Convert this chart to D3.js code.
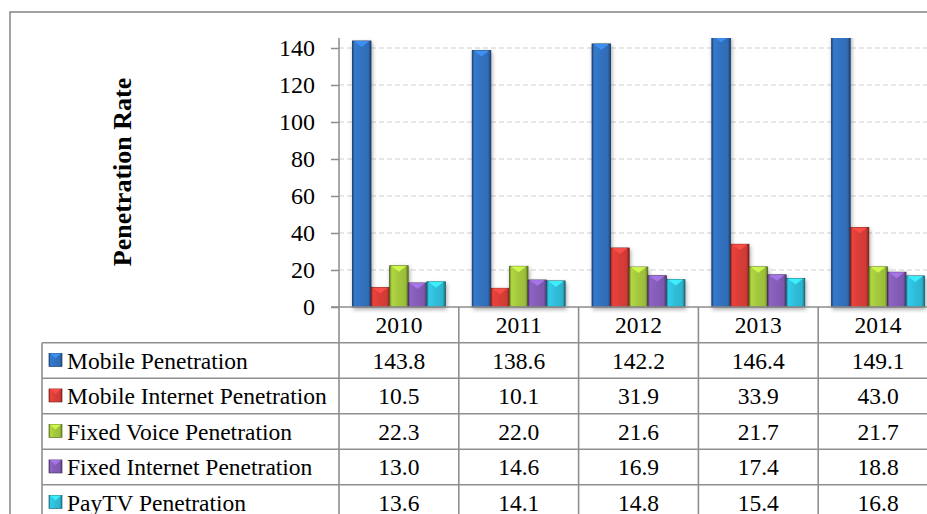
<!DOCTYPE html>
<head>
<meta charset="utf-8">
<title>Penetration Rate</title>
<style>
body { margin: 0; background: #fff; }
text { font-family: "Liberation Serif", "Times New Roman", serif; fill: #000; }
.tick-label { font-size: 24px; }
.tbl { font-size: 23.5px; }
.title { font-size: 26px; font-weight: bold; }
.grid line { stroke: #cfcfcf; stroke-width: 1.2; stroke-dasharray: 5,3; }
.frame { stroke: #8c8c8c; stroke-width: 1.6; fill: none; }
</style>
<script src="https://cdn.jsdelivr.net/npm/d3@7"></script>
</head>
<body>
<script>
// data
var years = ["2010", "2011", "2012", "2013", "2014"];
var seriesNames = ["Mobile Penetration", "Mobile Internet Penetration", "Fixed Voice Penetration",
                   "Fixed Internet Penetration", "PayTV Penetration"];
var mobile = [143.8, 138.6, 142.2, 146.4, 149.1];
var mobileInternet = [10.5, 10.1, 31.9, 33.9, 43.0];
var fixedVoice = [22.3, 22.0, 21.6, 21.7, 21.7];
var fixedInternet = [13.0, 14.6, 16.9, 17.4, 18.8];
var payTV = [13.6, 14.1, 14.8, 15.4, 16.8];
var yTicks = [0, 20, 40, 60, 80, 100, 120, 140];
var colors = ["#2f6cb6", "#cf3a35", "#9bbe3a", "#7d58ad", "#2db4cf"];

var seriesValues = [mobile, mobileInternet, fixedVoice, fixedInternet, payTV];

var W = 927, H = 514;
var axisX = 339, plotRight = 938, plotTop = 38, baseY = 307;
var rowH = 35.5, headerBottom = 342.7, tableLeft = 42;

var svg = d3.select("body").append("svg")
    .attr("width", W)
    .attr("height", H);

svg.append("rect").attr("width", W).attr("height", H).attr("fill", "#fff");

var defs = svg.append("defs");

// bevel-ish gradients per series
colors.forEach(function(c, i) {
  var g = defs.append("linearGradient").attr("id", "g" + i)
      .attr("x1", "0%").attr("x2", "100%").attr("y1", "0%").attr("y2", "0%");
  var base = d3.color(c);
  g.append("stop").attr("offset", "0%").attr("stop-color", base.darker(1.1));
  g.append("stop").attr("offset", "12%").attr("stop-color", base.brighter(0.35));
  g.append("stop").attr("offset", "45%").attr("stop-color", base.brighter(0.15));
  g.append("stop").attr("offset", "85%").attr("stop-color", base);
  g.append("stop").attr("offset", "100%").attr("stop-color", base.darker(1.3));
});

var shadow = defs.append("filter").attr("id", "shadow")
    .attr("x", "-20%").attr("y", "-5%").attr("width", "140%").attr("height", "115%");
shadow.append("feGaussianBlur").attr("in", "SourceAlpha").attr("stdDeviation", 2);
shadow.append("feOffset").attr("dx", 1).attr("dy", 2).attr("result", "b");
shadow.append("feComponentTransfer").append("feFuncA").attr("type", "linear").attr("slope", 0.35);
var merge = shadow.append("feMerge");
merge.append("feMergeNode");
merge.append("feMergeNode").attr("in", "SourceGraphic");

defs.append("clipPath").attr("id", "plotclip")
  .append("rect")
    .attr("x", axisX).attr("y", plotTop)
    .attr("width", plotRight - axisX).attr("height", baseY - plotTop + 6);

// outer frame
svg.append("rect").attr("class", "frame")
    .attr("x", 10).attr("y", 12)
    .attr("width", W + 20).attr("height", H + 20);

var y = d3.scaleLinear().domain([0, 140]).range([baseY, 48]);

var x0 = d3.scaleBand().domain(years)
    .range([axisX, plotRight])
    .paddingInner(0.224).paddingOuter(0.112);

var x1 = d3.scaleBand().domain(d3.range(seriesNames.length))
    .range([0, x0.bandwidth()]);

var xCell = d3.scaleBand().domain(years).range([axisX, plotRight]);

// grid
svg.append("g").attr("class", "grid")
  .selectAll("line").data(yTicks.slice(1))
  .enter().append("line")
    .attr("x1", axisX).attr("x2", W)
    .attr("y1", function(d) { return y(d); })
    .attr("y2", function(d) { return y(d); });

// y axis
var yAxis = svg.append("g")
    .attr("transform", "translate(" + axisX + ",0)")
    .call(d3.axisLeft(y).tickValues(yTicks).tickSize(8).tickPadding(16));
yAxis.select(".domain").remove();
yAxis.selectAll(".tick line").attr("stroke", "#8c8c8c").attr("stroke-width", 1.5);
yAxis.selectAll(".tick text").attr("class", "tick-label").attr("font-size", null)
    .attr("font-family", null).attr("fill", "#000");
yAxis.attr("font-size", null).attr("font-family", null);

svg.append("line")
    .attr("x1", axisX).attr("x2", axisX)
    .attr("y1", plotTop).attr("y2", baseY)
    .attr("stroke", "#8c8c8c").attr("stroke-width", 1.5);

svg.append("text").attr("class", "title")
    .attr("transform", "translate(131," + 172 + ") rotate(-90)")
    .attr("text-anchor", "middle")
    .text("Penetration Rate");

// bars
var bars = svg.append("g").attr("clip-path", "url(#plotclip)")
  .append("g").attr("filter", "url(#shadow)");

var groups = bars.selectAll("g.year").data(years)
  .enter().append("g")
    .attr("class", "year")
    .attr("transform", function(d) { return "translate(" + x0(d) + ",0)"; });

groups.each(function(yr, yi) {
  var g = d3.select(this);
  seriesValues.forEach(function(vals, si) {
    var bx = x1(si), bw = x1.bandwidth(), top = y(vals[yi]);
    var base = d3.color(colors[si]);
    g.append("rect")
        .attr("x", bx).attr("y", top)
        .attr("width", bw).attr("height", baseY - top)
        .attr("fill", "url(#g" + si + ")")
        .attr("stroke", base.darker(1.8))
        .attr("stroke-width", 0.8);
    g.append("path")
        .attr("d", "M" + (bx + 1.5) + "," + top + "L" + (bx + bw - 1.5) + "," + top +
                   "L" + (bx + bw / 2) + "," + (top + 6) + "Z")
        .attr("fill", base.brighter(0.9))
        .attr("opacity", 0.85);
  });
});

// baseline
svg.append("line")
    .attr("x1", axisX - 8).attr("x2", W)
    .attr("y1", baseY).attr("y2", baseY)
    .attr("stroke", "#8c8c8c").attr("stroke-width", 1.5);

// data table
var tbl = svg.append("g");
var lineColor = "#8f8f8f";

years.concat(["end"]).forEach(function(yr, i) {
  var xx = axisX + i * xCell.step();
  tbl.append("line")
      .attr("x1", xx).attr("x2", xx)
      .attr("y1", baseY).attr("y2", H)
      .attr("stroke", lineColor).attr("stroke-width", 1.6);
});

tbl.append("line")
    .attr("x1", tableLeft).attr("x2", tableLeft)
    .attr("y1", headerBottom).attr("y2", H)
    .attr("stroke", lineColor).attr("stroke-width", 1.6);

d3.range(seriesNames.length + 1).forEach(function(r) {
  var yy = headerBottom + r * rowH;
  tbl.append("line")
      .attr("x1", tableLeft).attr("x2", W)
      .attr("y1", yy).attr("y2", yy)
      .attr("stroke", lineColor).attr("stroke-width", 1.6);
});

tbl.selectAll("text.year").data(years)
  .enter().append("text")
    .attr("class", "tbl")
    .attr("x", function(d) { return xCell(d) + xCell.bandwidth() / 2; })
    .attr("y", (baseY + headerBottom) / 2)
    .attr("dy", "0.35em")
    .attr("text-anchor", "middle")
    .text(function(d) { return d; });

seriesNames.forEach(function(name, si) {
  var cy = headerBottom + si * rowH + rowH / 2;
  var base = d3.color(colors[si]);
  tbl.append("rect")
      .attr("x", 49).attr("y", cy - 7)
      .attr("width", 13).attr("height", 13)
      .attr("fill", "url(#g" + si + ")")
      .attr("stroke", base.darker(1.5)).attr("stroke-width", 0.7);
  tbl.append("path")
      .attr("d", "M50," + (cy - 7) + "L61," + (cy - 7) + "L55.5," + (cy - 2) + "Z")
      .attr("fill", base.brighter(0.9)).attr("opacity", 0.85);
  tbl.append("text").attr("class", "tbl")
      .attr("x", 67).attr("y", cy).attr("dy", "0.35em")
      .text(name);
  seriesValues[si].forEach(function(v, yi) {
    tbl.append("text").attr("class", "tbl")
        .attr("x", xCell(years[yi]) + xCell.bandwidth() / 2)
        .attr("y", cy).attr("dy", "0.35em")
        .attr("text-anchor", "middle")
        .text(v.toFixed(1));
  });
});
</script>
</body>
